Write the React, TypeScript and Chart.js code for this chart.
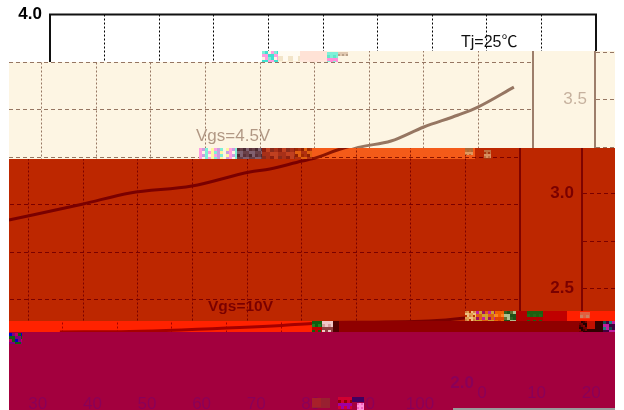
import React, { useEffect, useRef } from "react";
import { Chart, registerables } from "chart.js";

Chart.register(...registerables);

// Data
const idVgs45 = [6.4, 20, 28.6, 39.9, 50.5, 54.2, 60.1, 61.9, 68.0, 74, 80, 86.3, 89.9, 96.5];
const rdsVgs45 = [2.918, 3.003, 3.061, 3.097, 3.171, 3.187, 3.229, 3.24, 3.3, 3.334, 3.408, 3.471, 3.513, 3.618];
const idVgs10 = [9.5, 22.3, 31.7, 50.2, 55.7, 83.3, 89.9, 96.7];
const rdsVgs10 = [2.329, 2.332, 2.34, 2.363, 2.374, 2.387, 2.403, 2.434];
const xRange = [0, 100];
const yRange = [2.0, 4.0];
const xStep = 10;
const yStep = 0.25;
const yLabelStep = 0.5;
const seriesLabels = ["Vgs=4.5V", "Vgs=10V"];
const noteLabel = "Tj=25℃";

const FONT = '"Liberation Sans", "Noto Sans CJK SC", sans-serif';
const WRAP = 608;

type Band = {
  x0: number; x1: number; y0: number; y1: number; shift: number; dy: number;
  bg: number[]; fg: number[]; textOnly?: boolean;
};
const CREAM = [253, 245, 227], BROWN = [150, 118, 98];
const RED = [189, 39, 0], DARK = [122, 0, 0];
const ORANGE = [244, 91, 25], ORFG = [140, 20, 0];
const HOT = [255, 34, 0], HOTFG = [165, 0, 0];
const WINE = [163, 0, 62], WINEFG = [138, 0, 88];

const bands: Band[] = [
  { x0: 262, x1: 615, y0: 51, y1: 62, shift: 63, dy: 10, bg: CREAM, fg: BROWN },
  { x0: 9, x1: 615, y0: 62, y1: 148, shift: 63, dy: 10, bg: CREAM, fg: BROWN },
  { x0: 9, x1: 199, y0: 148, y1: 159, shift: 63, dy: 10, bg: CREAM, fg: BROWN },
  { x0: 199, x1: 475, y0: 148, y1: 159, shift: 76, dy: 11, bg: ORANGE, fg: ORFG },
  { x0: 475, x1: 615, y0: 148, y1: 159, shift: 76, dy: 11, bg: RED, fg: DARK },
  { x0: 9, x1: 615, y0: 159, y1: 321, shift: 76, dy: 11, bg: RED, fg: DARK },
  { x0: 9, x1: 615, y0: 321, y1: 332, shift: 42, dy: 11, bg: HOT, fg: HOTFG },
  { x0: 9, x1: 615, y0: 332, y1: 410, shift: 176, dy: 11, bg: WINE, fg: WINEFG, textOnly: true },
];

type Patch = { x: number; y: number; w: number; h: number; cell: number; colors: string[] };
const patches: Patch[] = [
  { x: 262, y: 51, w: 16, h: 11, cell: 3, colors: ["#7ff0d8", "#ff9ee0", "#fdf5e3", "#40e0d0"] },
  { x: 278, y: 51, w: 22, h: 11, cell: 5, colors: ["#fffaf0", "#fdf0d8", "#f2e4c8"] },
  { x: 300, y: 51, w: 27, h: 11, cell: 9, colors: ["#ffe2d6", "#fde0cc", "#ffe8dc"] },
  { x: 327, y: 52, w: 11, h: 10, cell: 3, colors: ["#7ff0d8", "#ff8fd8", "#60e8c8"] },
  { x: 338, y: 52, w: 10, h: 6, cell: 2, colors: ["#e0c8b0", "#fdf5e3", "#b8a088"] },
  { x: 199, y: 148, w: 38, h: 11, cell: 3, colors: ["#ff9ee0", "#7ff0d8", "#fff7a0", "#c8a0e0", "#fdf5e3"] },
  { x: 237, y: 148, w: 25, h: 11, cell: 3, colors: ["#5a3038", "#806070", "#4a2830", "#6a4048"] },
  { x: 262, y: 148, w: 33, h: 11, cell: 4, colors: ["#8c2010", "#a83018", "#8a2a1a", "#c04020"] },
  { x: 295, y: 148, w: 17, h: 11, cell: 3, colors: ["#a02800", "#e06010", "#902000", "#b03010"] },
  { x: 465, y: 148, w: 8, h: 7, cell: 2, colors: ["#b06a38", "#e09860", "#c07030"] },
  { x: 484, y: 150, w: 7, h: 9, cell: 2, colors: ["#c07040", "#d89060", "#a83810"] },
  { x: 465, y: 311, w: 11, h: 10, cell: 2, colors: ["#d08040", "#f0c080", "#c03000", "#e0a050"] },
  { x: 476, y: 311, w: 19, h: 10, cell: 3, colors: ["#c020a0", "#e06010", "#a01060", "#d0a030"] },
  { x: 495, y: 311, w: 9, h: 10, cell: 3, colors: ["#f06000", "#e04000", "#ff8020"] },
  { x: 504, y: 311, w: 12, h: 10, cell: 3, colors: ["#306020", "#b0c090", "#607030", "#205018"] },
  { x: 516, y: 311, w: 11, h: 10, cell: 11, colors: ["#b00000"] },
  { x: 527, y: 311, w: 16, h: 10, cell: 3, colors: ["#1e6010", "#b00000", "#206a18"] },
  { x: 543, y: 311, w: 24, h: 10, cell: 24, colors: ["#c00000"] },
  { x: 567, y: 311, w: 48, h: 10, cell: 48, colors: ["#ff2000"] },
  { x: 580, y: 312, w: 10, h: 7, cell: 3, colors: ["#e06040", "#ff3010", "#d08060"] },
  { x: 339, y: 321, w: 240, h: 11, cell: 240, colors: ["#8f0000"] },
  { x: 312, y: 321, w: 10, h: 11, cell: 3, colors: ["#106010", "#c00000", "#208020"] },
  { x: 322, y: 321, w: 11, h: 11, cell: 3, colors: ["#f0c8c8", "#904040", "#d8a0a0"] },
  { x: 333, y: 321, w: 6, h: 11, cell: 6, colors: ["#500000"] },
  { x: 579, y: 321, w: 8, h: 11, cell: 2, colors: ["#8f0000", "#700000", "#400000", "#200000"] },
  { x: 587, y: 321, w: 16, h: 11, cell: 8, colors: ["#c01000", "#300000"] },
  { x: 603, y: 321, w: 12, h: 11, cell: 3, colors: ["#105050", "#c020a0", "#208080", "#400040"] },
  { x: 9, y: 333, w: 13, h: 11, cell: 3, colors: ["#0000c0", "#106010", "#c00060", "#800080"] },
  { x: 312, y: 398, w: 18, h: 10, cell: 9, colors: ["#a8202a", "#982030"] },
  { x: 338, y: 397, w: 14, h: 12, cell: 3, colors: ["#d00030", "#a000a0", "#900000"] },
  { x: 352, y: 397, w: 12, h: 5, cell: 12, colors: ["#400060"] },
  { x: 357, y: 403, w: 7, h: 7, cell: 2, colors: ["#f060c0", "#ff90d8"] },
  { x: 453, y: 408, w: 162, h: 2, cell: 162, colors: ["#9a9a9a"] },
];

const glitchPlugin = {
  id: "glitch",
  beforeDraw(chart: any) {
    const { ctx, width: W, height: H } = chart;
    ctx.save();
    ctx.fillStyle = "#fff";
    ctx.fillRect(0, 0, W, H);
    ctx.restore();
  },
  afterDatasetsDraw(chart: any) {
    const { ctx, chartArea: a } = chart;
    ctx.save();
    ctx.strokeStyle = "#111";
    ctx.lineWidth = 2;
    ctx.strokeRect(a.left, a.top, a.right - a.left, a.bottom - a.top);
    ctx.textBaseline = "middle";
    ctx.textAlign = "left";
    ctx.fillStyle = "#111";
    ctx.font = `16px ${FONT}`;
    ctx.fillText(noteLabel, 461, 43);
    ctx.fillStyle = "#444";
    ctx.font = `17px ${FONT}`;
    ctx.fillText(seriesLabels[0], 259, 136);
    ctx.fillStyle = "#000";
    ctx.font = `bold 15.5px ${FONT}`;
    ctx.fillText(seriesLabels[1], 284, 307);
    ctx.restore();
  },
  afterDraw(chart: any) {
    const { ctx, width: W, height: H, chartArea: a } = chart;
    const src = ctx.getImageData(0, 0, W, H);
    const dst = ctx.getImageData(0, 0, W, H);
    for (const b of bands) {
      for (let y = b.y0; y < Math.min(b.y1, H); y++) {
        for (let x = b.x0; x < b.x1; x++) {
          let sx = x + b.shift;
          let sy = y;
          if (sx >= 616) {
            sx -= WRAP;
            sy = y + b.dy;
          }
          let lum = 1;
          if (sy < H && sx < W) {
            const inside = sx > a.left - 2 && sx < a.right + 2 && sy > a.top - 2 && sy < a.bottom + 1;
            if (!(b.textOnly && inside)) lum = src.data[(sy * W + sx) * 4] / 255;
          }
          const o = (y * W + x) * 4;
          for (let c = 0; c < 3; c++) dst.data[o + c] = b.bg[c] * lum + b.fg[c] * (1 - lum);
          dst.data[o + 3] = 255;
        }
      }
    }
    ctx.putImageData(dst, 0, 0);
    for (const p of patches) {
      for (let j = 0; j * p.cell < p.h; j++) {
        for (let i = 0; i * p.cell < p.w; i++) {
          ctx.fillStyle = p.colors[(i * 3 + j * 5 + ((i * j) % 2)) % p.colors.length];
          ctx.fillRect(
            p.x + i * p.cell,
            p.y + j * p.cell,
            Math.min(p.cell, p.w - i * p.cell),
            Math.min(p.cell, p.h - j * p.cell)
          );
        }
      }
    }
  },
};

export default function App() {
  const ref = useRef<HTMLCanvasElement>(null);
  useEffect(() => {
    document.body.style.margin = "0";
    const chart = new Chart(ref.current!, {
      type: "line",
      data: {
        datasets: [
          {
            label: seriesLabels[0],
            data: idVgs45.map((x, i) => ({ x, y: rdsVgs45[i] })),
            borderColor: "#000",
            borderWidth: 3,
            pointRadius: 0,
            fill: false,
            cubicInterpolationMode: "monotone",
          },
          {
            label: seriesLabels[1],
            data: idVgs10.map((x, i) => ({ x, y: rdsVgs10[i] })),
            borderColor: "#000",
            borderWidth: 3,
            pointRadius: 0,
            fill: false,
            cubicInterpolationMode: "monotone",
          },
        ],
      },
      options: {
        responsive: false,
        animation: false,
        devicePixelRatio: 1,
        layout: { padding: { left: 0, top: 14.5, right: 28, bottom: 0 } },
        plugins: {
          legend: { display: false },
          title: { display: false },
          tooltip: { enabled: false },
        },
        scales: {
          x: {
            type: "linear",
            min: xRange[0],
            max: xRange[1],
            ticks: {
              stepSize: xStep,
              autoSkip: false,
              maxRotation: 0,
              padding: 0,
              color: "#000",
              font: { family: FONT, size: 17 },
            },
            grid: { color: "#000", lineWidth: 1, drawTicks: false },
            border: { color: "#000", width: 2, dash: [2, 2] },
            afterFit(s: any) {
              s.height = 15.5;
              s.paddingLeft = 0;
              s.paddingRight = 0;
            },
          },
          y: {
            type: "linear",
            min: yRange[0],
            max: yRange[1],
            ticks: {
              stepSize: yStep,
              autoSkip: false,
              padding: 8,
              color: (c: any) => (c.tick && c.tick.value === 3.5 ? "#777" : "#000"),
              font: (c: any) => ({
                family: FONT,
                size: 17,
                weight: c.tick && c.tick.value === 3.5 ? "normal" : "bold",
              }),
              callback: (v: any) => {
                const n = Number(v) / yLabelStep;
                return Math.abs(n - Math.round(n)) < 1e-6 ? Number(v).toFixed(1) : "";
              },
            },
            grid: { color: "#000", lineWidth: 1, drawTicks: false },
            border: { color: "#000", width: 2, dash: [4, 3] },
            afterFit(s: any) {
              s.width = 50;
              s.paddingTop = 0;
              s.paddingBottom = 0;
            },
          },
        },
      },
      plugins: [glitchPlugin],
    } as any);
    return () => chart.destroy();
  }, []);
  return (
    <div style={{ width: 624, height: 410, background: "#fff" }}>
      <canvas ref={ref} width={624} height={410} style={{ display: "block" }} />
    </div>
  );
}
